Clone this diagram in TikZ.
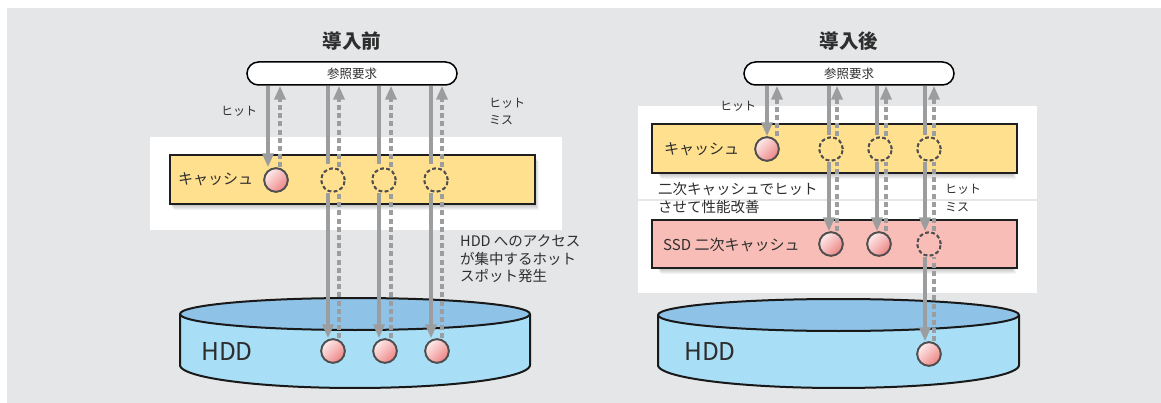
\documentclass[tikz,border=0pt]{standalone}
\usepackage{fontspec}
\setmainfont{Noto Sans CJK JP}
\usetikzlibrary{arrows.meta}
\definecolor{bggray}{HTML}{E5E6E8}
\definecolor{arrgray}{HTML}{9C9D9F}
\definecolor{cacheY}{HTML}{FFE08E}
\definecolor{ssdP}{HTML}{F8BDB7}
\definecolor{hddTop}{HTML}{8EC3E7}
\definecolor{hddBody}{HTML}{A8DEF6}
\definecolor{ballA}{HTML}{FDECEC}
\definecolor{ballB}{HTML}{EE8484}
\definecolor{ringgray}{HTML}{4F4F4F}
\definecolor{txt}{HTML}{2E2E2E}
\begin{document}
\begin{tikzpicture}[x=1pt,y=-1pt,
  every node/.style={text=txt},
  lbl/.style={font=\fontsize{14.5}{17.5}\selectfont, anchor=west, inner sep=0pt, align=left},
  smalllbl/.style={font=\fontsize{12}{17.5}\selectfont, anchor=west, inner sep=0pt, align=left},
  boxlbl/.style={font=\fontsize{15}{17}\selectfont, anchor=west, inner sep=0pt},
  titlelbl/.style={font=\fontsize{19.5}{22}\selectfont\bfseries, inner sep=0pt},
  req/.style={draw=black, line width=1.5pt, fill=white, rounded corners=11.5pt, minimum width=210pt, minimum height=23pt, inner sep=0pt, font=\fontsize{12.5}{14}\selectfont},
  layerbox/.style={draw=black!88, line width=2.2pt, minimum width=365pt, minimum height=49pt, inner sep=0pt},
  hitball/.style={circle, draw=ringgray, line width=1.8pt, minimum size=23.5pt, inner sep=0pt, top color=ballA, bottom color=ballB, shading angle=45},
  missball/.style={circle, draw=ringgray, line width=1.8pt, minimum size=23.5pt, inner sep=0pt, dash pattern=on 3.6pt off 2.6pt},
  sarr/.style={draw=arrgray, line width=4.5pt},
  darr/.style={draw=arrgray, line width=4.5pt, dash pattern=on 5pt off 3.2pt},
  headed/.style={-{Triangle[length=14pt,width=11pt]}},
  hddtxt/.style={font=\fontsize{24.5}{26}\selectfont, inner sep=0pt},
  cylline/.style={draw=black!90, line width=2pt, line join=round}
]
\useasboundingbox (0,0) rectangle (1161,403);
\fill[white] (0,0) rectangle (1161,403);
\fill[bggray] (7,8) rectangle (1161,403);
\fill[white] (150,137) rectangle (562,230);
\fill[white] (638,106) rectangle (1037,199);
\fill[white] (638,201) rectangle (1037,293);

% titles and requests
\node[titlelbl] (tL) at (352,41) {導入前};
\node[titlelbl] (tR) at (849,41) {導入後};
\node[req] (reqL) at (352,73.5) {参照要求};
\node[req] (reqR) at (849,73.5) {参照要求};

% shadows
\foreach \i in {1,...,6} {
  \fill[black,opacity=0.045] ({170+\i*0.6},{155+\i}) rectangle ({535+\i*0.6},{204+\i});
  \fill[black,opacity=0.045] ({657+\i*0.6},{124+\i}) rectangle ({1012+\i*0.6},{173+\i});
  \fill[black,opacity=0.045] ({657+\i*0.6},{220+\i}) rectangle ({1012+\i*0.6},{268+\i});
}
% layer boxes
\node[layerbox, fill=cacheY] (cacheL) at (352.5,179.5) {};
\node[layerbox, fill=cacheY] (cacheR) at (834.5,148.5) {};
\node[layerbox, fill=ssdP, minimum height=48pt] (ssdR) at (834.5,244) {};
\node[boxlbl] (cacheLt) at (178,179) {キャッシュ};
\node[boxlbl] (cacheRt) at (664,149) {キャッシュ};
\node[boxlbl] (ssdRt) at (663,245) {SSD 二次キャッシュ};

% HDD cylinders
\fill[hddBody] (180,314) rectangle (530,365);
\fill[hddBody] (355,365) ellipse [x radius=175, y radius=23];
\draw[cylline] (180,314) -- (180,365) -- plot[domain=180:360, samples=72] ({355+175*cos(\x)},{365-23*sin(\x)}) -- (530,314);
\draw[cylline, fill=hddTop] (355,314) ellipse [x radius=175, y radius=16];
\node[hddtxt] (hddL) at (227,352) {HDD};

\fill[hddBody] (658,315) rectangle (1019,365);
\fill[hddBody] (838.5,365) ellipse [x radius=180.5, y radius=23];
\draw[cylline] (658,315) -- (658,365) -- plot[domain=180:360, samples=72] ({838.5+180.5*cos(\x)},{365-23*sin(\x)}) -- (1019,315);
\draw[cylline, fill=hddTop] (838.5,315) ellipse [x radius=180.5, y radius=16];
\node[hddtxt] (hddR) at (710,352) {HDD};

% balls (named, redrawn later on top of the arrows)
\node[hitball] (hL0) at (276,180) {};
\node[missball] (mL1) at (333,180) {};
\node[missball] (mL2) at (384,180) {};
\node[missball] (mL3) at (436,180) {};
\node[hitball] (dL1) at (333,351) {};
\node[hitball] (dL2) at (385,351) {};
\node[hitball] (dL3) at (437,351) {};

\node[hitball] (hR0) at (767,149) {};
\node[missball] (mR1) at (831,149) {};
\node[missball] (mR2) at (880,149) {};
\node[missball] (mR3) at (929,149) {};
\node[hitball] (sR1) at (831,244) {};
\node[hitball] (sR2) at (879,244) {};
\node[missball] (sR3) at (929,244) {};
\node[hitball] (dR3) at (929,354) {};

% column coordinates
\coordinate (aL0) at (268,0); \coordinate (bL0) at (280,0);
\coordinate (aL1) at (328,0); \coordinate (bL1) at (339,0);
\coordinate (aL2) at (379,0); \coordinate (bL2) at (391,0);
\coordinate (aL3) at (431,0); \coordinate (bL3) at (442,0);
\coordinate (aR0) at (767,0); \coordinate (bR0) at (777,0);
\coordinate (aR1) at (829,0); \coordinate (bR1) at (837,0);
\coordinate (aR2) at (877,0); \coordinate (bR2) at (886,0);
\coordinate (aR3) at (925,0); \coordinate (bR3) at (934,0);

% left arrows
\draw[sarr,headed] (aL0 |- reqL.south) -- (aL0 |- hL0.north);
\draw[darr,headed] (bL0 |- hL0.north) -- (bL0 |- reqL.south);
\foreach \j in {1,2,3} {
  \draw[sarr, shorten >=3pt] (aL\j |- reqL.south) -- (aL\j |- mL\j.north);
  \draw[darr,headed] (bL\j |- mL\j.north) -- (bL\j |- reqL.south);
  \draw[sarr,headed] (aL\j |- mL\j.south) -- (aL\j |- dL\j.north);
  \draw[darr] (bL\j |- dL\j.north) -- (bL\j |- mL\j.south);
}
% right arrows
\draw[sarr,headed] (aR0 |- reqR.south) -- (aR0 |- hR0.north);
\draw[darr,headed] (bR0 |- hR0.north) -- (bR0 |- reqR.south);
\foreach \j in {1,2,3} {
  \draw[sarr, shorten >=1pt] (aR\j |- reqR.south) -- (aR\j |- mR\j.north);
  \draw[darr,headed] (bR\j |- mR\j.north) -- (bR\j |- reqR.south);
  \draw[sarr,headed] (aR\j |- mR\j.south) -- (aR\j |- sR\j.north);
  \draw[darr] (bR\j |- sR\j.north) -- (bR\j |- mR\j.south);
}
\draw[sarr,headed] (aR3 |- sR3.south) -- (aR3 |- dR3.north);
\draw[darr] (bR3 |- dR3.north) -- (bR3 |- sR3.south);

% redraw balls on top of arrows
\foreach \x/\y in {276/180, 333/351, 385/351, 437/351, 767/149, 831/244, 879/244, 929/354} {
  \node[hitball] at (\x,\y) {};
}
\foreach \x/\y in {333/180, 384/180, 436/180, 831/149, 880/149, 929/149, 929/244} {
  \node[missball] at (\x,\y) {};
}

% labels
\node[smalllbl] (hitL) at (221,111) {ヒット};
\node[smalllbl] (hmL) at (489,111.5) {ヒット\\ミス};
\node[lbl] (hotL) at (460,259) {HDD へのアクセス\\が集中するホット\\スポット発生};
\node[smalllbl] (hitR) at (720,106) {ヒット};
\node[smalllbl] (hmR) at (945,198) {ヒット\\ミス};
\node[lbl] (ssdnote) at (658,198) {二次キャッシュでヒット\\させて性能改善};
\end{tikzpicture}
\end{document}
